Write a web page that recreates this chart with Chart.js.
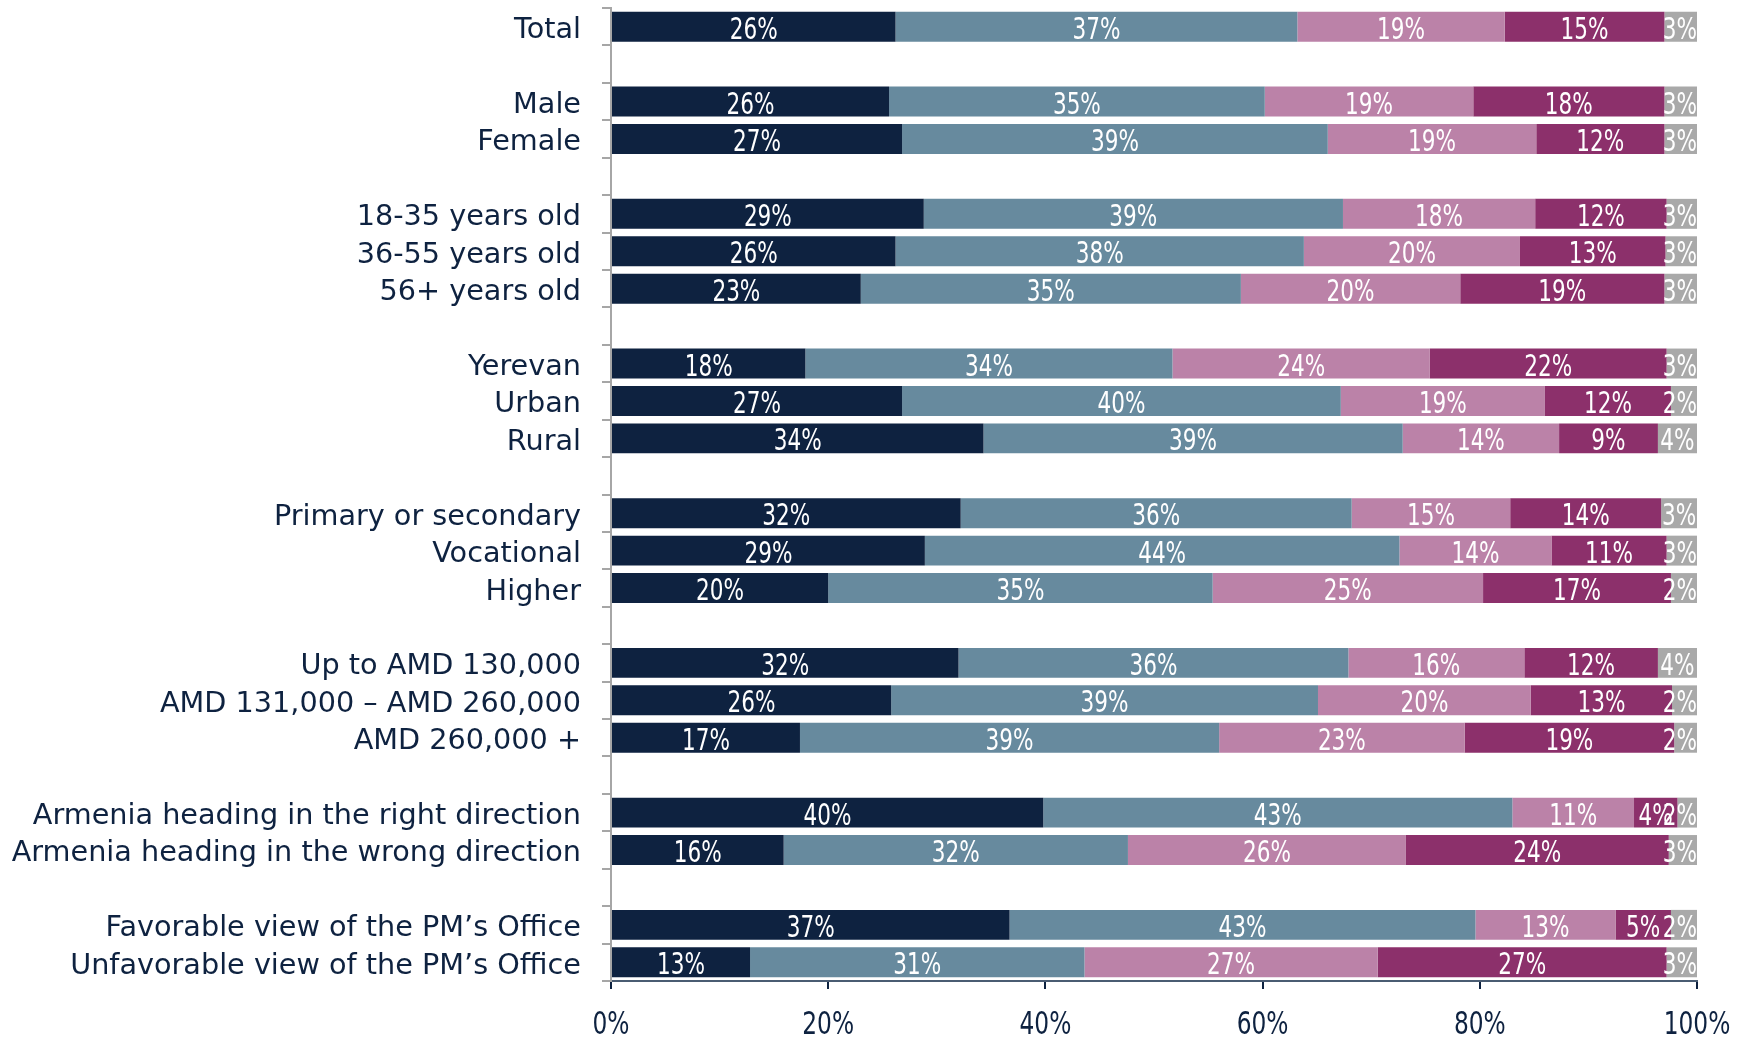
<!DOCTYPE html>
<html>
<head>
<meta charset="utf-8">
<script src="https://cdn.jsdelivr.net/npm/chart.js@4/dist/chart.umd.min.js"></script>
<style>
  body { margin: 0; background: #fff; }
  #wrap { width: 1752px; height: 1039px; position: relative; }
</style>
</head>
<body>
<div id="wrap"><canvas id="grafico"></canvas></div>
<script>
// categorias (linhas vazias separam os grupos)
const categories = [
    'Total', '',
    'Male', 'Female', '',
    '18-35 years old', '36-55 years old', '56+ years old', '',
    'Yerevan', 'Urban', 'Rural', '',
    'Primary or secondary', 'Vocational', 'Higher', '',
    'Up to AMD 130,000', 'AMD 131,000 \u2013 AMD 260,000', 'AMD 260,000 +', '',
    'Armenia heading in the right direction', 'Armenia heading in the wrong direction', '',
    'Favorable view of the PM\u2019s Office', 'Unfavorable view of the PM\u2019s Office'
];

const serie1 = [26.2, null, 25.6, 26.8, null, 28.8, 26.2, 23.0, null, 17.9, 26.8, 34.3, null, 32.2, 28.9, 20.0, null, 32.0, 25.8, 17.4, null, 39.8, 15.9, null, 36.7, 12.8];
const serie2 = [37.0, null, 34.6, 39.2, null, 38.6, 37.6, 35.0, null, 33.8, 40.4, 38.6, null, 36.0, 43.7, 35.4, null, 35.9, 39.3, 38.6, null, 43.2, 31.7, null, 42.9, 30.8];
const serie3 = [19.1, null, 19.2, 19.2, null, 17.7, 19.9, 20.2, null, 23.7, 18.8, 14.4, null, 14.6, 14.0, 24.9, null, 16.2, 19.6, 22.6, null, 11.2, 25.6, null, 12.9, 27.0];
const serie4 = [14.7, null, 17.6, 11.8, null, 12.1, 13.4, 18.8, null, 21.8, 11.6, 9.1, null, 13.9, 10.6, 17.3, null, 12.3, 13.0, 19.3, null, 4.0, 24.2, null, 5.1, 26.6];
const serie5 = [3.0, null, 3.0, 3.0, null, 2.8, 2.9, 3.0, null, 2.8, 2.4, 3.6, null, 3.3, 2.8, 2.4, null, 3.6, 2.3, 2.1, null, 1.8, 2.6, null, 2.4, 2.8];

const xTicks = [0, 20, 40, 60, 80, 100];

const cores = ['#0E2240', '#678A9E', '#BB82A8', '#8C306B', '#A9A9A9'];
const navy = '#0E2240';
const fonteNum = '"DejaVu Sans Condensed", "DejaVu Sans", sans-serif';

// texto estreito (escala horizontal)
function textoEstreito(ctx, txt, x, y, sx) {
    ctx.save();
    ctx.translate(x, y);
    ctx.scale(sx, 1);
    ctx.fillText(txt, 0, 0);
    ctx.restore();
}

// rotulos brancos no meio de cada segmento + rotulos do eixo x
const rotulos = {
    id: 'rotulos',
    afterDatasetsDraw(chart) {
        const ctx = chart.ctx;
        const area = chart.chartArea;
        const sx = 0.8;
        ctx.save();
        ctx.font = '30px ' + fonteNum;
        ctx.fillStyle = '#ffffff';
        ctx.textAlign = 'center';
        ctx.textBaseline = 'alphabetic';
        chart.data.datasets.forEach((ds, i) => {
            chart.getDatasetMeta(i).data.forEach((bar, j) => {
                const v = ds.data[j];
                if (v == null) return;
                const txt = Math.round(v) + '%';
                const w = ctx.measureText(txt).width * sx;
                let x = (bar.x + bar.base) / 2;
                if (x + w / 2 > area.right) x = area.right - w / 2;
                textoEstreito(ctx, txt, x, bar.y + 12, sx);
            });
        });

        const xs = chart.scales.x;
        ctx.font = '32px ' + fonteNum;
        ctx.fillStyle = navy;
        xTicks.forEach(v => {
            textoEstreito(ctx, v + '%', xs.getPixelForValue(v), area.bottom + 53, 0.81);
        });
        ctx.restore();
    }
};

const ctx = document.getElementById('grafico').getContext('2d');

new Chart(ctx, {
    type: 'bar',
    data: {
        labels: categories,
        datasets: [serie1, serie2, serie3, serie4, serie5].map((d, i) => ({
            data: d,
            backgroundColor: cores[i],
            borderWidth: 0,
            barPercentage: 0.8,
            categoryPercentage: 1
        }))
    },
    options: {
        indexAxis: 'y',
        responsive: true,
        maintainAspectRatio: false,
        animation: false,
        layout: {
            padding: { top: 8, right: 55, bottom: 0, left: 0 }
        },
        scales: {
            x: {
                stacked: true,
                min: 0,
                max: 100,
                afterBuildTicks: (scale) => { scale.ticks = xTicks.map(v => ({ value: v })); },
                afterFit: (scale) => {
                    scale.height = 58;
                    scale.paddingLeft = 0;
                    scale.paddingRight = 0;
                },
                ticks: { display: false },
                grid: {
                    drawOnChartArea: false,
                    color: navy,
                    lineWidth: 2,
                    tickLength: 8
                },
                border: { color: '#4A5C72', width: 2 }
            },
            y: {
                stacked: true,
                afterFit: (scale) => {
                    scale.width = 611;
                    scale.paddingTop = 0;
                    scale.paddingBottom = 0;
                },
                ticks: {
                    color: navy,
                    padding: 21,
                    labelOffset: 4,
                    autoSkip: false,
                    font: { size: 28.7, family: '"DejaVu Sans", sans-serif' }
                },
                grid: {
                    offset: true,
                    drawOnChartArea: false,
                    color: '#A6A6A6',
                    lineWidth: 2,
                    tickLength: 9
                },
                border: { color: '#A6A6A6', width: 2 }
            }
        },
        plugins: {
            legend: { display: false },
            tooltip: { enabled: false }
        }
    },
    plugins: [rotulos]
});
</script>
</body>
</html>
